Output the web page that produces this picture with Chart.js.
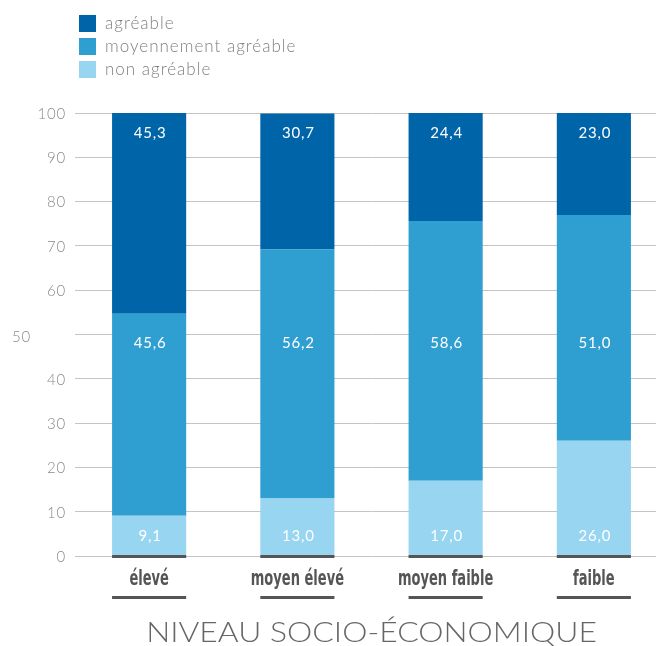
<!DOCTYPE html>
<html>
<head>
<meta charset="utf-8">
<script src="https://cdn.jsdelivr.net/npm/chart.js@4"></script>
<style>
  html, body { margin: 0; padding: 0; background: #fff; overflow: hidden; }
  #wrap { width: 656px; height: 646px; overflow: hidden; }
</style>
</head>
<body>
<div id="wrap"><canvas id="chart" width="668" height="646"></canvas></div>
<script>
var categories = ['élevé', 'moyen élevé', 'moyen faible', 'faible'];
var nonAgreable = [9.1, 13.0, 17.0, 26.0];
var moyennement = [45.6, 56.2, 58.6, 51.0];
var agreable = [45.3, 30.7, 24.4, 23.0];
var yTicks = [0, 10, 20, 30, 40, 50, 60, 70, 80, 90, 100];
var axisTitle = 'NIVEAU SOCIO-ÉCONOMIQUE';

var colors = {
    agreable: '#0064a9',
    moyen: '#2f9fd2',
    non: '#97d5f1'
};

var lightFont = '"Lato", "Open Sans", sans-serif';
var narrowFont = '"DejaVu Sans Condensed", "Liberation Sans", sans-serif';

function fmt(v) {
    return v.toFixed(1).replace('.', ',');
}

// text squeezed or stretched horizontally around its centre
function drawScaled(ctx, text, cx, cy, sx) {
    ctx.save();
    ctx.translate(cx, cy);
    ctx.scale(sx, 1);
    ctx.textAlign = 'center';
    ctx.fillText(text, 0, 0);
    ctx.restore();
}

// draws legend, ticks, value labels, category labels and title
var decorations = {
    id: 'decorations',
    afterDatasetsDraw: function (chart) {
        var ctx = chart.ctx;
        var x = chart.scales.x;
        var y = chart.scales.y;
        ctx.save();

        // legend (top to bottom: agréable first)
        var legend = [
            { label: 'agréable', color: colors.agreable },
            { label: 'moyennement agréable', color: colors.moyen },
            { label: 'non agréable', color: colors.non }
        ];
        ctx.font = '300 17px ' + lightFont;
        ctx.letterSpacing = '1px';
        ctx.textBaseline = 'middle';
        ctx.textAlign = 'left';
        legend.forEach(function (item, i) {
            var cy = 23 + i * 23;
            ctx.fillStyle = item.color;
            ctx.fillRect(79, cy - 8, 17, 17);
            ctx.fillStyle = '#808080';
            ctx.fillText(item.label, 105, cy + 1);
        });

        // y tick labels
        ctx.font = '300 15px ' + lightFont;
        ctx.letterSpacing = '0.8px';
        ctx.fillStyle = '#8a8a8a';
        yTicks.forEach(function (t) {
            var py = y.getPixelForValue(t) + 1;
            if (t === 50) {
                ctx.textAlign = 'left';
                ctx.fillText(String(t), 12, py + 2);
            } else {
                ctx.textAlign = 'right';
                ctx.fillText(String(t), 66, py);
            }
        });

        // value labels inside the bars
        var rows = [
            { data: nonAgreable, at: 4.5 },
            { data: moyennement, at: 48 },
            { data: agreable, at: 95.5 }
        ];
        ctx.font = '15px ' + lightFont;
        ctx.letterSpacing = '0.8px';
        ctx.fillStyle = '#ffffff';
        ctx.textAlign = 'center';
        rows.forEach(function (row) {
            row.data.forEach(function (v, i) {
                ctx.fillText(fmt(v), x.getPixelForValue(i) + 1, y.getPixelForValue(row.at));
            });
        });

        // base lines, category labels and underlines
        var meta = chart.getDatasetMeta(0);
        ctx.letterSpacing = '0px';
        ctx.fillStyle = '#555555';
        ctx.font = 'bold 21px ' + narrowFont;
        categories.forEach(function (c, i) {
            var bar = meta.data[i];
            var left = bar.x - bar.width / 2;
            var base = y.getPixelForValue(0);
            ctx.fillRect(left, base - 1, bar.width, 3);
            drawScaled(ctx, c, bar.x, 580, 0.69);
            ctx.fillRect(left, 596, bar.width, 3);
        });

        // axis title
        ctx.font = '300 27px ' + lightFont;
        ctx.fillStyle = '#666666';
        drawScaled(ctx, axisTitle, (chart.chartArea.left + chart.chartArea.right) / 2, 633, 1.18);

        ctx.restore();
    }
};

new Chart(document.getElementById('chart'), {
    type: 'bar',
    data: {
        labels: categories,
        datasets: [
            { label: 'non agréable', data: nonAgreable, backgroundColor: colors.non },
            { label: 'moyennement agréable', data: moyennement, backgroundColor: colors.moyen },
            { label: 'agréable', data: agreable, backgroundColor: colors.agreable }
        ]
    },
    options: {
        responsive: false,
        animation: false,
        layout: { padding: { top: 113, left: 0, right: 0, bottom: 0 } },
        datasets: {
            bar: { categoryPercentage: 1, barPercentage: 0.5 }
        },
        plugins: {
            legend: { display: false },
            tooltip: { enabled: false }
        },
        scales: {
            x: {
                stacked: true,
                grid: { display: false },
                border: { display: false },
                ticks: { display: false },
                afterFit: function (s) { s.height = 90; }
            },
            y: {
                stacked: true,
                min: 0,
                max: 100,
                afterFit: function (s) { s.width = 75; },
                ticks: { display: false, stepSize: 10 },
                border: { display: false },
                grid: { color: '#c4c4c4', lineWidth: 1, drawTicks: false }
            }
        }
    },
    plugins: [decorations]
});
</script>
</body>
</html>
